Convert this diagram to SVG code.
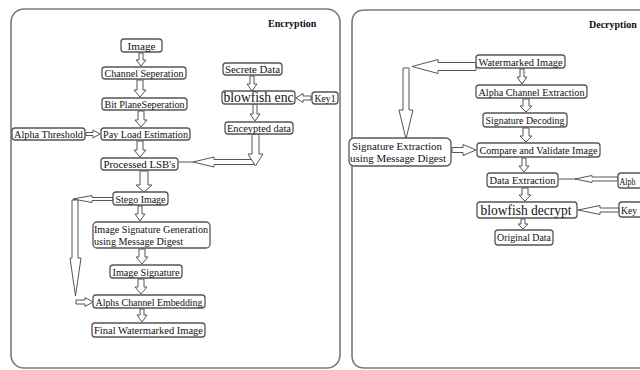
<svg xmlns="http://www.w3.org/2000/svg" width="640" height="370" viewBox="0 0 640 370" font-family="'Liberation Serif', 'DejaVu Serif', serif">
<style>
.panel{fill:#fff;stroke:#7a7a7a;stroke-width:1.6}
.box{fill:#fff;stroke:#555;stroke-width:1.3}
text{font-family:'Liberation Serif','DejaVu Serif',serif}
.t{font-size:11px;fill:#111;text-anchor:middle}
.tl{font-size:11px;fill:#111}
.big{font-size:14px;fill:#111;text-anchor:middle}
.title{font-size:10px;font-weight:bold;fill:#111}
.arr{fill:#fff;stroke:#555;stroke-width:1;stroke-linejoin:miter}
.ln{stroke:#555;stroke-width:1;fill:none}
</style>
<rect width="640" height="370" fill="#fff"/>
<rect class="panel" x="11" y="9" width="329" height="359" rx="13"/>
<path class="panel" d="M645,10 H365 Q352,10 352,23 V355 Q352,368 365,368 H645"/>
<text class="title" x="268" y="27">Encryption</text>
<text class="title" x="589" y="28">Decryption</text>

<g id="connectors">
<path class="arr" d="M139,53 V60 H136 L141,66 L146,60 H143 V53 Z"/>
<path class="arr" d="M137,80 V90 H134 L140,97 L146,90 H143 V80 Z"/>
<path class="arr" d="M138,111 V120 H135 L141,127 L147,120 H144 V111 Z"/>
<path class="arr" d="M137,141 V150 H134 L140,157 L146,150 H143 V141 Z"/>
<path class="arr" d="M140,171 V185 H136 L144,192 L152,185 H148 V171 Z"/>
<path class="arr" d="M138,206 V214 H135 L140,221 L145,214 H142 V206 Z"/>
<path class="arr" d="M139,249 V257 H136 L142,264 L148,257 H145 V249 Z"/>
<path class="arr" d="M138,279 V287 H135 L141,294 L147,287 H144 V279 Z"/>
<path class="arr" d="M140,309 V315 H137 L142,322 L147,315 H144 V309 Z"/>
<path class="arr" d="M86,132.5 H93 V130 L100,134 L93,138 V135.5 H86 Z"/>
<path class="arr" d="M250,76 V84 H247 L252,91 L257,84 H254 V76 Z"/>
<path class="arr" d="M253,104 V114 H250 L255,121 L260,114 H257 V104 Z"/>
<path class="arr" d="M311,96 H303 V93.5 L296,98 L303,102.5 V100 H311 Z"/>
<line class="ln" x1="179" y1="162" x2="193" y2="162"/>
<path class="arr" d="M254,159.5 H214 V157 L193,162 L214,167 V164.5 H254 Z"/>
<path class="arr" d="M252,134 V154 H248 L255.5,166 L263,154 H259 V134 Z"/>
<path class="arr" d="M113,197.5 H92 V195.5 L73,199 L92,202.5 V200.5 H113 Z"/>
<path class="arr" d="M72,200 V258 H70 L75.5,296 L81,258 H78 V200 Z"/>
<path class="arr" d="M76,300 H85 V297.5 L93,302 L85,306.5 V304 H76 Z"/>
<path class="arr" d="M476,62.5 H438 V59.5 L412,66.5 L438,73.5 V70.5 H476 Z"/>
<path class="arr" d="M403,68 V110 H399 L406,139 L413,110 H409 V68 Z"/>
<path class="arr" d="M452,147.5 H463 V144.5 L476,150 L463,155.5 V152.5 H452 Z"/>
<path class="arr" d="M520,69 V77 H517 L522,84 L527,77 H524 V69 Z"/>
<path class="arr" d="M523,99 V106 H520 L526,112 L532,106 H529 V99 Z"/>
<path class="arr" d="M523,128 V136 H520 L526,142 L532,136 H529 V128 Z"/>
<path class="arr" d="M522,158 V166 H519 L524,172 L529,166 H526 V158 Z"/>
<path class="arr" d="M522,188 V195 H519 L525,201 L531,195 H528 V188 Z"/>
<path class="arr" d="M521,219 V224 H518 L523,229 L528,224 H525 V219 Z"/>
<line class="ln" x1="559" y1="179" x2="576" y2="179"/>
<path class="arr" d="M618,177 H592 V175.5 L575,179 L592,182.5 V181 H618 Z"/>
<path class="arr" d="M619,208 H600 V205.5 L578,210 L600,214.5 V212 H619 Z"/>
</g>

<g id="image"><rect class="box" x="121" y="39" width="41" height="13" rx="3"/><text class="t" x="141.5" y="49.5" textLength="28" lengthAdjust="spacingAndGlyphs">Image</text></g>
<g id="channel-seperation"><rect class="box" x="102" y="67" width="84" height="12" rx="3"/><text class="t" x="144" y="77" textLength="79" lengthAdjust="spacingAndGlyphs">Channel Seperation</text></g>
<g id="bit-plane"><rect class="box" x="102" y="98" width="85" height="12" rx="3"/><text class="t" x="144.5" y="108" textLength="80" lengthAdjust="spacingAndGlyphs">Bit PlaneSeperation</text></g>
<g id="payload"><rect class="box" x="101" y="128" width="89" height="12" rx="3"/><text class="t" x="145.5" y="138" textLength="85" lengthAdjust="spacingAndGlyphs">Pay Load Estimation</text></g>
<g id="alpha-threshold"><rect class="box" x="12" y="128" width="73" height="12" rx="3"/><text class="t" x="48.5" y="138" textLength="69" lengthAdjust="spacingAndGlyphs">Alpha Threshold</text></g>
<g id="processed-lsb"><rect class="box" x="101" y="158" width="77" height="12" rx="3"/><text class="t" x="139.5" y="168" textLength="72" lengthAdjust="spacingAndGlyphs">Processed LSB's</text></g>
<g id="stego"><rect class="box" x="113" y="192" width="55" height="13" rx="3"/><text class="t" x="140.5" y="202.5" textLength="50" lengthAdjust="spacingAndGlyphs">Stego Image</text></g>
<g id="sig-gen"><rect class="box" x="93" y="222" width="117" height="26" rx="4"/><text class="tl" x="94" y="233" textLength="114" lengthAdjust="spacingAndGlyphs">Image Signature Generation</text><text class="tl" x="94" y="245" textLength="89" lengthAdjust="spacingAndGlyphs">using Message Digest</text></g>
<g id="image-signature"><rect class="box" x="110" y="265" width="72" height="13" rx="3"/><text class="t" x="146" y="275.5" textLength="67" lengthAdjust="spacingAndGlyphs">Image Signature</text></g>
<g id="alphs-embedding"><rect class="box" x="93" y="295" width="112" height="13" rx="3"/><text class="t" x="149" y="305.5" textLength="107" lengthAdjust="spacingAndGlyphs">Alphs Channel Embedding</text></g>
<g id="final-watermarked"><rect class="box" x="92" y="323" width="113" height="14" rx="3"/><text class="t" x="148.5" y="334" textLength="109" lengthAdjust="spacingAndGlyphs">Final Watermarked Image</text></g>
<g id="secrete-data"><rect class="box" x="223" y="63" width="59" height="12" rx="3"/><text class="t" x="252.5" y="73" textLength="55" lengthAdjust="spacingAndGlyphs">Secrete Data</text></g>
<g id="blowfish-enc"><rect class="box" x="222" y="91" width="73" height="13" rx="3"/><text class="big" x="258.5" y="102" textLength="70" lengthAdjust="spacingAndGlyphs">blowfish enc</text></g>
<g id="key1"><rect class="box" x="312" y="92" width="26" height="12" rx="3"/><text class="t" x="325" y="102" textLength="21" lengthAdjust="spacingAndGlyphs">Key1</text></g>
<g id="enceypted"><rect class="box" x="225" y="122" width="68" height="12" rx="3"/><text class="t" x="259" y="132" textLength="64" lengthAdjust="spacingAndGlyphs">Enceypted data</text></g>

<g id="watermarked-image"><rect class="box" x="476" y="55" width="89" height="13" rx="3"/><text class="t" x="520.5" y="65.5" textLength="84" lengthAdjust="spacingAndGlyphs">Watermarked Image</text></g>
<g id="alpha-extraction"><rect class="box" x="476" y="85" width="111" height="13" rx="3"/><text class="t" x="531.5" y="95.5" textLength="106" lengthAdjust="spacingAndGlyphs">Alpha Channel Extraction</text></g>
<g id="signature-decoding"><rect class="box" x="483" y="113" width="84" height="14" rx="3"/><text class="t" x="525" y="124" textLength="79" lengthAdjust="spacingAndGlyphs">Signature Decoding</text></g>
<g id="compare-validate"><rect class="box" x="477" y="143" width="123" height="14" rx="3"/><text class="t" x="538.5" y="154" textLength="118" lengthAdjust="spacingAndGlyphs">Compare and Validate Image</text></g>
<g id="sig-extraction"><rect class="box" x="349" y="138" width="102" height="28" rx="5"/><text class="tl" x="352" y="149.5" textLength="90" lengthAdjust="spacingAndGlyphs">Signature Extraction</text><text class="tl" x="350" y="162" textLength="96" lengthAdjust="spacingAndGlyphs">using Message Digest</text></g>
<g id="data-extraction"><rect class="box" x="487" y="173" width="71" height="14" rx="3"/><text class="t" x="522.5" y="184" textLength="66" lengthAdjust="spacingAndGlyphs">Data Extraction</text></g>
<g id="blowfish-decrypt"><rect class="box" x="477" y="202" width="100" height="16" rx="3"/><text class="big" x="526" y="215" textLength="91" lengthAdjust="spacingAndGlyphs">blowfish decrypt</text></g>
<g id="original-data"><rect class="box" x="495" y="230" width="58" height="15" rx="3"/><text class="t" x="524" y="241" textLength="54" lengthAdjust="spacingAndGlyphs">Original Data</text></g>
<g id="alpha-partial"><path class="box" d="M640,173 H621 Q618,173 618,176 V185 Q618,188 621,188 H640"/><text class="tl" x="619.5" y="184.5" textLength="16" lengthAdjust="spacingAndGlyphs">Alph</text></g>
<g id="key-partial"><path class="box" d="M640,202 H622 Q619,202 619,205 V214 Q619,217 622,217 H640"/><text class="tl" x="621" y="213.5" textLength="16" lengthAdjust="spacingAndGlyphs">Key</text></g>
</svg>
